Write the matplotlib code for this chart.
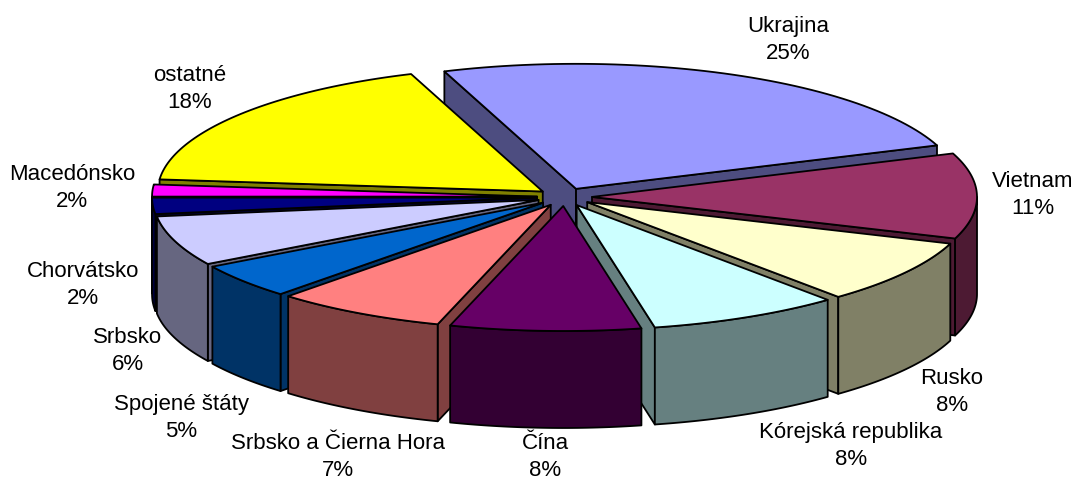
import matplotlib
matplotlib.use('Agg')
import matplotlib.pyplot as plt
from matplotlib.colors import to_rgb
from matplotlib.patches import Polygon
import numpy as np

plt.rcParams['font.family'] = ['Liberation Sans', 'DejaVu Sans']

countries = ['Ukrajina', 'Vietnam', 'Rusko', 'Kórejská republika', 'Čína',
             'Srbsko a Čierna Hora', 'Spojené štáty', 'Srbsko', 'Chorvátsko',
             'Macedónsko', 'ostatné']
share_labels = ['25%', '11%', '8%', '8%', '8%', '7%', '5%', '6%', '2%', '2%', '18%']
# unrounded shares
shares = [24.9, 11.05, 8.3, 8.05, 8.0, 7.2, 4.5, 6.45, 2.1, 1.55, 17.9]
colours = ['#9999FF', '#993366', '#FFFFCC', '#CCFFFF', '#660066', '#FF8080',
           '#0066CC', '#CCCCFF', '#000080', '#FF00FF', '#FFFF00']
label_x = [788, 1033, 952, 851, 545, 338, 181, 128, 83, 72, 190]
label_y = [40, 195, 392, 446, 457, 457, 418, 351, 285, 188, 89]

# pie geometry in pixels
cx, cy = 564.5, 197
rx, ry = 385, 125
ex, ey = 27.5, 9
depth = 97
start = -20


def rim(t):
    t = np.radians(t)
    return np.sin(t) * rx, -np.cos(t) * ry


def cross(a, b):
    return a[0] * b[1] - a[1] * b[0]


def wall_visible(t, mid):
    # the side is seen when the slice lies on the far side of its edge
    p = rim(t)
    return cross(p, rim(mid)) * cross(p, (0, 1)) < 0


def front_arcs(t0, t1):
    # parts of the outer wall that face the viewer (90..270 degrees)
    res = []
    for shift in (-360, 0, 360):
        a = max(t0, 90 + shift)
        b = min(t1, 270 + shift)
        if b > a:
            res.append((a, b))
    return res


def draw_face(ax, pts, colour):
    ax.add_patch(Polygon(pts, closed=True, facecolor=colour, edgecolor='black',
                         linewidth=1.3, joinstyle='round'))


def draw_slice(ax, t0, t1, colour):
    mid = (t0 + t1) / 2
    ox = cx + ex * np.sin(np.radians(mid))
    oy = cy - ey * np.cos(np.radians(mid))
    dark = tuple(c * 0.5 for c in to_rgb(colour))

    for t in (t0, t1):
        if wall_visible(t, mid):
            x, y = rim(t)
            draw_face(ax, [(ox, oy), (ox + x, oy + y), (ox + x, oy + y + depth), (ox, oy + depth)], dark)

    for a, b in front_arcs(t0, t1):
        ts = np.linspace(a, b, 40)
        x, y = rim(ts)
        top = np.column_stack([ox + x, oy + y])
        bottom = np.column_stack([ox + x, oy + y + depth])
        draw_face(ax, np.vstack([top, bottom[::-1]]), dark)

    ts = np.linspace(t0, t1, 60)
    x, y = rim(ts)
    draw_face(ax, np.vstack([[(ox, oy)], np.column_stack([ox + x, oy + y])]), colour)


fig = plt.figure(figsize=(10.77, 4.8), dpi=100)
ax = fig.add_axes([0, 0, 1, 1])
ax.set_xlim(0, 1077)
ax.set_ylim(480, 0)
ax.axis('off')

edges = start + np.cumsum([0] + shares) * 3.6
slices = list(zip(edges[:-1], edges[1:], colours))
# back slices first so the front ones cover them
slices.sort(key=lambda s: -np.cos(np.radians((s[0] + s[1]) / 2)))
for t0, t1, colour in slices:
    draw_slice(ax, t0, t1, colour)

for name, share, x, y in zip(countries, share_labels, label_x, label_y):
    ax.text(x, y, name + '\n' + share, ha='center', va='center',
            fontsize=16, color='black', linespacing=1.37, clip_on=False)

fig.savefig('out.png', dpi=100)
